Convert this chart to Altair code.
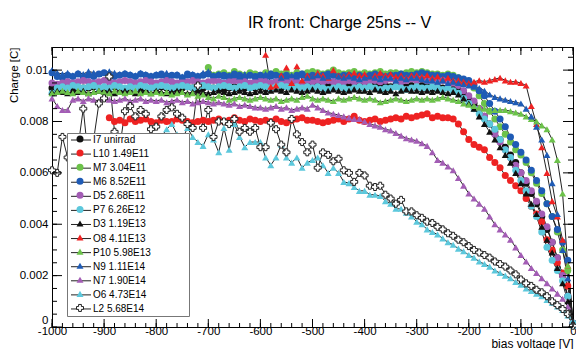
import altair as alt
import pandas as pd

FONT = "Liberation Sans"

SERIES = ["I7 unirrad", "L10 1.49E11", "M7 3.04E11", "M6 8.52E11", "D5 2.68E11",
          "P7 6.26E12", "D3 1.19E13", "O8 4.11E13", "P10 5.98E13", "N9 1.11E14",
          "N7 1.90E14", "O6 4.73E14", "L2 5.68E14"]
FILLS = ["#111111", "#ee2222", "#6cc24a", "#1f5bb5", "#a35db5", "#5cc8dc",
         "#111111", "#ee2222", "#6cc24a", "#1f5bb5", "#a35db5", "#5cc8dc", "#ffffff"]
SHAPES = ["circle"] * 6 + ["triangle-up"] * 6 + ["cross"]
OUTLINES = ["transparent"] * 12 + ["#222222"]
LEGEND_LINE = "M-2.857,0H2.857"
STARTS = [-1000, -890, -700, -1000, -1000, -1000, -1000, -600, -1000, -1000, -1000, -800, -1000]
STEP = 10          # volts between measurements
UNIT = 1e-3        # values below are in units of 1e-3 C

I7 = [9.3, 9.25, 9.3, 9.35, 9.3, 9.25, 9.3, 9.3, 9.35, 9.3,
      9.25, 9.3, 9.35, 9.3, 9.25, 9.3, 9.35, 9.3, 9.25, 9.3,
      9.3, 9.35, 9.3, 9.25, 9.3, 9.3, 9.35, 9.3, 9.25, 9.3,
      9.35, 9.3, 9.3, 9.25, 9.3, 9.35, 9.3, 9.3, 9.4, 9.3,
      9.35, 9.3, 9.4, 9.35, 9.3, 9.35, 9.4, 9.35, 9.3, 9.4,
      9.35, 9.4, 9.35, 9.4, 9.35, 9.4, 9.45, 9.4, 9.35, 9.4,
      9.4, 9.35, 9.4, 9.45, 9.4, 9.35, 9.4, 9.4, 9.35, 9.4,
      9.35, 9.4, 9.35, 9.3, 9.35, 9.3, 9.3, 9.25, 9.2, 9.1,
      8.9, 8.7, 8.5, 8.2, 7.9, 7.6, 7.3, 7.0, 6.7, 6.4,
      6.0, 5.6, 5.2, 4.8, 4.3, 3.8, 3.3, 2.7, 2.0, 1.2, 0.15]
L10 = [8.15, 8.0, 8.05, 7.95, 8.1, 8.0, 8.05, 8.1, 8.0,
       7.95, 8.05, 8.0, 8.0, 8.1, 8.05, 8.0, 7.95, 8.0, 8.05,
       8.0, 8.05, 8.1, 8.0, 8.05, 8.15, 8.05, 8.0, 8.1, 8.05,
       8.0, 8.05, 8.0, 8.1, 8.0, 7.95, 8.05, 8.1, 8.15, 8.05,
       8.05, 8.0, 7.95, 8.0, 8.05, 8.1, 8.0, 8.1, 8.2, 8.05,
       8.0, 8.05, 8.1, 8.0, 8.05, 8.1, 8.15, 8.1, 8.2, 8.15,
       8.2, 8.25, 8.3, 8.15, 8.2, 8.15, 8.15, 8.1, 7.9, 7.6,
       7.3, 7.1, 7.0, 6.9, 6.6, 6.4, 6.2, 5.9, 5.7, 5.5,
       5.3, 5.0, 4.7, 4.4, 4.1, 3.4, 3.0, 2.5, 2.1, 1.6, 0.15]
M7 = [10.1, 9.8, 9.85, 9.9, 9.8, 9.95, 9.85, 9.8, 9.9, 9.85,
      9.8, 9.9, 9.85, 9.95, 9.85, 9.9, 9.8, 9.9, 9.85, 9.9,
      9.95, 9.9, 9.85, 9.9, 10.0, 9.9, 9.85, 9.9, 9.95, 9.85,
      9.9, 9.85, 9.9, 9.95, 9.85, 9.9, 9.9, 9.85, 9.9, 9.95,
      9.9, 9.95, 9.9, 9.85, 9.85, 9.8, 9.85, 9.8, 9.7, 9.6,
      9.5, 9.3, 9.0, 8.7, 8.4, 8.1, 7.8, 7.5, 7.2, 6.9,
      6.7, 6.4, 6.0, 5.6, 5.2, 4.8, 4.3, 3.7, 3.0, 2.2, 0.15]
M6 = [9.9, 9.75, 9.7, 9.8, 9.75, 9.85, 9.7, 9.8, 9.75, 9.85,
      9.9, 9.8, 9.75, 9.8, 9.85, 9.8, 9.75, 9.85, 9.8, 9.75,
      9.8, 9.85, 9.75, 9.8, 9.8, 9.7, 9.85, 9.8, 9.75, 9.8,
      9.85, 9.75, 9.8, 9.8, 9.75, 9.85, 9.8, 9.7, 9.8, 9.75,
      9.8, 9.75, 9.85, 9.8, 9.75, 9.8, 9.7, 9.8, 9.85, 9.75,
      9.8, 9.75, 9.8, 9.85, 9.8, 9.75, 9.8, 9.8, 9.7, 9.8,
      9.75, 9.8, 9.85, 9.8, 9.75, 9.8, 9.8, 9.85, 9.8, 9.8,
      9.85, 9.9, 9.85, 9.8, 9.8, 9.75, 9.8, 9.75, 9.7, 9.65,
      9.6, 9.4, 9.2, 9.0, 8.7, 8.4, 8.1, 7.8, 7.4, 7.1,
      6.8, 6.5, 6.1, 5.7, 5.3, 4.8, 4.3, 3.8, 3.3, 2.6, 0.15]
D5 = [9.5, 9.45, 9.5, 9.55, 9.5, 9.55, 9.6, 9.55, 9.5, 9.55,
      9.6, 9.55, 9.5, 9.55, 9.6, 9.55, 9.5, 9.55, 9.6, 9.55,
      9.5, 9.55, 9.6, 9.55, 9.5, 9.55, 9.55, 9.6, 9.55, 9.5,
      9.55, 9.6, 9.55, 9.5, 9.55, 9.6, 9.55, 9.55, 9.5, 9.55,
      9.6, 9.55, 9.5, 9.55, 9.6, 9.55, 9.6, 9.55, 9.5, 9.6,
      9.55, 9.6, 9.55, 9.6, 9.55, 9.5, 9.55, 9.6, 9.55, 9.6,
      9.55, 9.6, 9.6, 9.55, 9.6, 9.65, 9.6, 9.55, 9.6, 9.65,
      9.6, 9.65, 9.6, 9.6, 9.55, 9.6, 9.55, 9.5, 9.4, 9.2,
      9.0, 8.8, 8.5, 8.2, 7.9, 7.5, 7.2, 6.9, 6.6, 6.3,
      6.0, 5.7, 5.3, 4.9, 4.4, 3.9, 3.3, 2.7, 2.0, 1.2, 0.15]
P7 = [9.1, 9.3, 9.35, 9.3, 9.4, 9.35, 9.3, 9.35, 9.4, 9.3,
      9.35, 9.3, 9.4, 9.35, 9.3, 9.35, 9.3, 9.4, 9.35, 9.3,
      9.35, 9.4, 9.35, 9.3, 9.35, 9.4, 9.35, 9.3, 9.35, 9.4,
      9.35, 9.3, 9.35, 9.4, 9.35, 9.3, 9.35, 9.4, 9.3, 9.35,
      9.4, 9.35, 9.3, 9.35, 9.4, 9.35, 9.3, 9.35, 9.3, 9.35,
      9.3, 9.35, 9.3, 9.25, 9.3, 9.35, 9.3, 9.25, 9.3, 9.35,
      9.3, 9.35, 9.3, 9.25, 9.3, 9.3, 9.35, 9.3, 9.25, 9.3,
      9.35, 9.3, 9.3, 9.35, 9.3, 9.25, 9.3, 9.2, 9.1, 8.9,
      8.7, 8.5, 8.3, 8.1, 7.9, 7.7, 7.3, 6.9, 6.6, 6.1,
      5.7, 5.3, 4.7, 4.3, 3.7, 3.1, 2.6, 2.2, 1.8, 1.2, 0.15]
D3 = [9.15, 9.2, 9.15, 9.1, 9.2, 9.15, 9.2, 9.1, 9.15, 9.2,
      9.15, 9.2, 9.1, 9.15, 9.2, 9.15, 9.1, 9.2, 9.15, 9.1,
      9.2, 9.15, 9.1, 9.15, 9.2, 9.15, 9.1, 9.15, 9.2, 9.15,
      9.1, 9.15, 9.2, 9.15, 9.1, 9.15, 9.2, 9.15, 9.1, 9.15,
      9.2, 9.15, 9.2, 9.25, 9.2, 9.15, 9.25, 9.2, 9.15, 9.2,
      9.25, 9.2, 9.15, 9.2, 9.25, 9.2, 9.15, 9.2, 9.25, 9.2,
      9.2, 9.15, 9.25, 9.2, 9.15, 9.2, 9.1, 9.2, 9.25, 9.2,
      9.2, 9.15, 9.2, 9.15, 9.2, 9.15, 9.1, 9.15, 9.05, 8.9,
      8.7, 8.5, 8.2, 7.9, 7.6, 7.3, 7.0, 6.7, 6.4, 6.0,
      5.6, 5.2, 4.8, 4.4, 3.9, 3.4, 2.9, 2.3, 1.7, 1.0, 0.15]
O8 = [30.0, 10.6, 9.35, 9.4, 9.8, 10.1, 9.5, 10.15, 9.6, 9.8,
      9.75, 9.9, 9.8, 9.7, 10.0, 9.8, 9.75, 9.85, 9.9, 9.8,
      9.85, 9.75, 9.8, 9.9, 9.8, 9.85, 9.75, 9.8, 9.7, 9.8,
      9.8, 9.75, 9.8, 9.7, 9.75, 9.65, 9.7, 9.6, 9.6, 9.55,
      9.5, 9.55, 9.6, 9.55, 9.6, 9.65, 9.7, 9.6, 9.55, 9.55,
      9.5, 9.4, 8.6, 7.9, 7.0, 6.0, 4.9, 4.3, 3.4, 2.4, 0.15]
P10 = [9.1, 9.15, 9.2, 9.15, 9.1, 9.2, 9.15, 9.1, 9.15, 9.2,
       9.15, 9.1, 9.2, 9.15, 9.1, 9.15, 9.2, 9.1, 9.15, 9.1,
       9.15, 9.1, 9.15, 9.05, 9.1, 9.15, 9.05, 9.1, 9.0, 9.05,
       8.95, 8.9, 9.0, 8.95, 8.85, 8.9, 8.95, 8.9, 8.85, 8.9,
       8.95, 8.9, 8.85, 8.9, 8.8, 8.85, 8.9, 8.85, 8.95, 9.0,
       8.9, 8.85, 8.9, 8.85, 8.8, 8.9, 8.85, 8.9, 8.95, 8.9,
       8.85, 8.9, 8.85, 8.75, 8.8, 8.85, 8.9, 8.85, 8.8, 8.85,
       8.9, 8.85, 8.9, 8.85, 8.9, 8.95, 8.9, 8.85, 8.8, 8.7,
       8.65, 8.6, 8.55, 8.5, 8.45, 8.45, 8.45, 8.45, 8.4, 8.35,
       8.3, 8.2, 8.1, 8.0, 7.85, 7.7, 7.3, 6.5, 5.2, 2.4, 0.15]
N9 = [10.0, 9.9, 9.85, 9.9, 9.8, 9.9, 9.85, 9.95, 9.9, 9.85,
      9.9, 9.95, 9.9, 9.85, 9.9, 9.85, 9.8, 9.9, 9.85, 9.8,
      9.85, 9.8, 9.9, 9.8, 9.85, 9.75, 9.8, 9.85, 9.8, 9.9,
      9.95, 9.8, 9.85, 9.75, 9.8, 9.8, 9.75, 9.85, 9.8, 9.75,
      9.8, 9.85, 9.75, 9.8, 9.7, 9.75, 9.8, 9.75, 9.8, 9.7,
      9.75, 9.8, 9.7, 9.75, 9.8, 9.75, 9.7, 9.75, 9.7, 9.65,
      9.7, 9.75, 9.7, 9.65, 9.7, 9.7, 9.6, 9.7, 9.65, 9.7,
      9.7, 9.65, 9.6, 9.6, 9.55, 9.6, 9.5, 9.55, 9.5, 9.45,
      9.4, 9.35, 9.3, 9.2, 9.05, 8.95, 8.9, 8.85, 8.8, 8.75,
      8.7, 8.5, 8.2, 7.8, 7.3, 6.7, 5.6, 4.4, 3.0, 1.9, 0.15]
N7 = [8.9, 8.6, 8.45, 8.45, 8.85, 8.9, 8.8, 8.9, 8.85, 8.8,
      8.9, 8.85, 8.8, 8.85, 8.9, 8.8, 8.85, 8.9, 8.8, 8.85,
      8.8, 8.85, 8.75, 8.8, 8.85, 8.75, 8.8, 8.7, 8.75, 8.8,
      8.75, 8.7, 8.75, 8.7, 8.65, 8.7, 8.6, 8.65, 8.6, 8.55,
      8.55, 8.5, 8.55, 8.6, 8.5, 8.55, 8.45, 8.5, 8.55, 8.5,
      8.65, 8.55, 8.45, 8.35, 8.3, 8.25, 8.2, 8.15, 8.1, 8.1,
      8.0, 7.9, 7.85, 7.8, 7.7, 7.65, 7.55, 7.45, 7.35, 7.3,
      7.25, 7.15, 7.05, 6.8, 6.5, 6.4, 6.25, 6.1, 5.8, 5.5,
      5.2, 5.0, 4.8, 4.6, 4.3, 4.0, 3.8, 3.6, 3.4, 3.1,
      2.8, 2.55, 2.3, 2.1, 1.9, 1.7, 1.5, 1.3, 1.1, 0.8, 0.1]
O6 = [7.0, 7.4, 7.7, 7.9, 7.5, 7.3, 7.75, 7.4, 7.2, 7.05,
      7.5, 7.3, 6.8, 7.75, 6.9, 7.9, 7.4, 7.0, 7.2, 7.2,
      7.2, 6.6, 6.3, 6.6, 7.1, 6.6, 6.4, 6.6, 6.2, 6.4,
      6.5, 6.6, 6.3, 6.0, 6.2, 6.0, 5.65, 5.6, 5.45, 5.3,
      5.3, 5.15, 5.15, 5.1, 4.9, 4.8, 4.6, 4.6, 4.45, 4.3,
      4.1, 4.0, 3.8, 3.7, 3.6, 3.45, 3.3, 3.2, 3.05, 2.95,
      2.8, 2.7, 2.55, 2.45, 2.35, 2.2, 2.1, 2.0, 1.9, 1.75,
      1.65, 1.5, 1.4, 1.3, 1.2, 1.05, 0.95, 0.8, 0.66, 0.45, 0.05]
L2 = [6.1, 6.0, 7.4, 6.6, 6.9, 7.0, 8.5, 6.5, 7.3, 8.7,
      8.9, 9.75, 7.6, 7.0, 8.4, 8.6, 8.2, 8.45, 8.3, 7.7,
      7.8, 8.2, 8.45, 8.55, 8.3, 8.15, 7.9, 7.75, 9.4, 7.75,
      8.45, 7.4, 8.0, 8.0, 7.9, 8.1, 7.6, 7.75, 7.6, 7.75,
      7.0, 7.0, 7.95, 7.7, 7.1, 6.8, 8.1, 7.5, 7.2, 6.8,
      7.1, 6.2, 6.8, 6.7, 6.45, 6.55, 6.1, 6.0, 5.65, 6.0,
      5.9, 5.5, 5.45, 5.5, 5.15, 5.0, 4.8, 4.95, 4.5, 4.5,
      4.35, 4.25, 4.1, 4.05, 3.9, 3.8, 3.65, 3.55, 3.4, 3.3,
      3.15, 3.0, 2.9, 2.8, 2.7, 2.55, 2.45, 2.35, 2.2, 2.05,
      1.85, 1.7, 1.6, 1.45, 1.35, 1.2, 1.0, 0.85, 0.7, 0.5, 0.05]

VALUES = [I7, L10, M7, M6, D5, P7, D3, O8, P10, N9, N7, O6, L2]

X_DOMAIN = [-1000, 0]
Y_DOMAIN = [0, 0.0109]
X_MAJOR = [-1000, -900, -800, -700, -600, -500, -400, -300, -200, -100, 0]
X_MINOR = list(range(-1000, 1, 20))
Y_MAJOR = [0, 0.002, 0.004, 0.006, 0.008, 0.01]
Y_MINOR = [k * 0.0005 for k in range(0, 22)]

rows = []
for name, start, vals in zip(SERIES, STARTS, VALUES):
    for i, v in enumerate(vals):
        rows.append({"series": name, "series_l": name, "V": start + STEP * i, "Q": v * UNIT})
df = pd.DataFrame(rows)

xs = alt.Scale(domain=X_DOMAIN, nice=False, zero=False)
ys = alt.Scale(domain=Y_DOMAIN, nice=False, zero=False)

x_axis = alt.Axis(values=X_MAJOR, labelExpr="'' + datum.value", ticks=False, domain=False,
                  grid=False, labelFlush=False, labelFont=FONT, labelFontSize=11.5,
                  labelColor="black", labelPadding=-2, title="bias voltage [V]",
                  titleFont=FONT, titleFontSize=12, titleFontWeight="normal",
                  titleColor="black", titleAnchor="end", titleAlign="right",
                  titleBaseline="alphabetic", titleY=20)
y_axis = alt.Axis(values=Y_MAJOR, labelExpr="format(datum.value, '~g')", ticks=False,
                  domain=False, grid=False, labelFont=FONT, labelFontSize=11.5,
                  labelColor="black", labelPadding=4,
                  labelBaseline={"condition": {"test": "datum.value === 0", "value": "bottom"},
                                 "value": "middle"},
                  labelOffset={"condition": {"test": "datum.value === 0", "value": -2},
                               "value": 0},
                  title="Charge [C]",
                  titleFont=FONT, titleFontSize=11.5, titleFontWeight="normal",
                  titleColor="black", titleX=-38, titleY=0, titleAngle=270,
                  titleAlign="right", titleBaseline="middle")

LEG_COMMON = dict(orient="none", legendX=15, padding=2, symbolSize=49,
                  symbolStrokeWidth=1, labelFont=FONT, labelFontSize=10,
                  labelColor="black", labelLimit=300)
# box, line segments and visible labels (drawn first)
legend_lines = alt.Legend(legendY=86, rowPadding=4.08, symbolType=LEGEND_LINE,
                          symbolOpacity=1, symbolOffset=7, labelOffset=7,
                          title="WWW", titleOrient="right", titleOpacity=0,
                          titleFontSize=11, titlePadding=4,
                          fillColor="white", strokeColor="#777777", **LEG_COMMON)
# coloured markers on top of the line segments
legend_marks = alt.Legend(legendY=85, rowPadding=2.08, symbolOffset=6, labelOffset=7,
                          labelExpr="' '", title=None, **LEG_COMMON)

X = alt.X("V:Q", scale=xs, axis=x_axis)
Y = alt.Y("Q:Q", scale=ys, axis=y_axis)

lines = alt.Chart(df).mark_line(strokeWidth=1, clip=True, color="#222222").encode(
    x=X, y=Y, detail="series:N",
)

# invisible layer that only carries the legend's line segments
legend_src = alt.Chart(df).transform_filter(
    alt.datum.Q <= Y_DOMAIN[1]
).mark_point(filled=False, size=49, strokeWidth=1, opacity=0).encode(
    x=X, y=Y,
    color=alt.Color("series_l:N", sort=SERIES,
                    scale=alt.Scale(range=["#222222"] * len(SERIES)), legend=legend_lines),
)

points = alt.Chart(df).transform_filter(
    alt.datum.Q <= Y_DOMAIN[1]
).mark_point(filled=True, size=49, strokeWidth=1, opacity=1).encode(
    x=X, y=Y,
    fill=alt.Fill("series:N", scale=alt.Scale(domain=SERIES, range=FILLS), legend=legend_marks),
    shape=alt.Shape("series:N", scale=alt.Scale(domain=SERIES, range=SHAPES), legend=legend_marks),
    stroke=alt.Stroke("series:N", scale=alt.Scale(domain=SERIES, range=OUTLINES), legend=legend_marks),
)


def x_ticks(values, length):
    d = pd.DataFrame({"V": values})
    base = alt.Chart(d).mark_rule(color="black", strokeWidth=1)
    bottom = base.encode(x=X, y=alt.value("height"),
                         y2=alt.value({"expr": f"height - {length}"}))
    top = base.encode(x=X, y=alt.value(0), y2=alt.value(length))
    return [bottom, top]


def y_ticks(values, length):
    d = pd.DataFrame({"Q": values})
    base = alt.Chart(d).mark_rule(color="black", strokeWidth=1)
    left = base.encode(y=Y, x=alt.value(0), x2=alt.value(length))
    right = base.encode(y=Y, x=alt.value("width"),
                        x2=alt.value({"expr": f"width - {length}"}))
    return [left, right]


ticks = x_ticks(X_MINOR, 4) + x_ticks(X_MAJOR, 8) + y_ticks(Y_MINOR, 5) + y_ticks(Y_MAJOR, 10)

chart = alt.layer(legend_src, lines, points, *ticks).properties(
    width=521, height=280,
    autosize=alt.AutoSizeParams(type="none"),
    padding={"left": 52, "top": 47, "right": 3, "bottom": 22},
    title=alt.TitleParams("IR front: Charge 25ns -- V", font=FONT, fontSize=16,
                          fontWeight="normal", color="black", anchor="middle",
                          frame="group", dx=27, offset=16),
).configure_view(stroke="black", strokeWidth=1)

chart.save("out.html", embed_options={"renderer": "svg", "actions": False})
